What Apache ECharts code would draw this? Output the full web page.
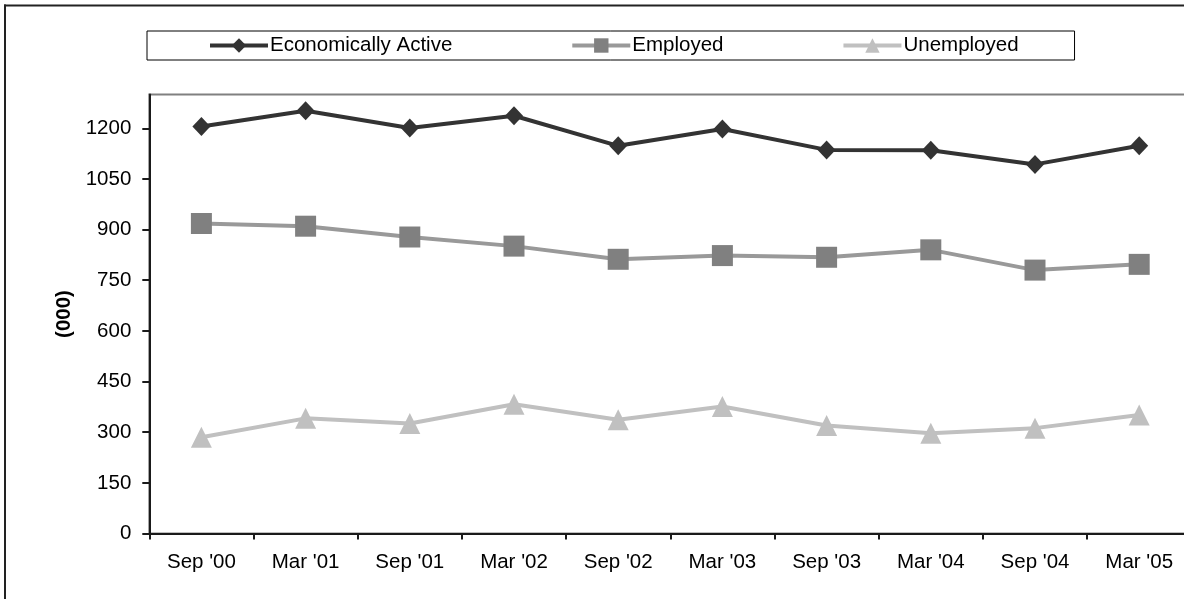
<!DOCTYPE html>
<html>
<head>
<meta charset="utf-8">
<title>Economic Activity</title>
<script src="https://cdn.jsdelivr.net/npm/echarts@6/dist/echarts.min.js"></script>
<style>
  html, body { margin: 0; padding: 0; background: #fff; overflow: hidden; }
  #chart { width: 1184px; height: 599px; }
</style>
</head>
<body>
<div id="chart"></div>
<script>
// Survey periods along the horizontal axis
const periods = ["Sep '00", "Mar '01", "Sep '01", "Mar '02", "Sep '02",
                 "Mar '03", "Sep '03", "Mar '04", "Sep '04", "Mar '05"];

// Headcounts in thousands
const economicallyActive = [1205, 1252, 1201, 1237, 1148, 1198, 1136, 1135, 1093, 1148];
const employed           = [918, 910, 878, 851, 812, 823, 818, 840, 780, 797];
const unemployed         = [285, 341, 326, 383, 337, 376, 320, 297, 312, 351];

// Labelled values on the vertical axis
const yTicks = [0, 150, 300, 450, 600, 750, 900, 1050, 1200];

const FONT = "'Liberation Sans', Arial, Helvetica, sans-serif";
const FONT_SIZE = 20.5;
const AXIS_COLOR = '#1a1a1a';

const chart = echarts.init(document.getElementById('chart'), null, { renderer: 'canvas' });

chart.setOption({
  animation: false,
  backgroundColor: '#ffffff',
  textStyle: { fontFamily: FONT, color: '#000' },
  graphic: [
    // outer frame: left and top edges of the chart area
    {
      type: 'line',
      shape: { x1: 5, y1: 4.5, x2: 5, y2: 599 },
      style: { stroke: '#222', lineWidth: 2 },
      silent: true
    },
    {
      type: 'line',
      shape: { x1: 4, y1: 5.5, x2: 1184, y2: 5.5 },
      style: { stroke: '#222', lineWidth: 2 },
      silent: true
    }
  ],
  legend: {
    left: 147,
    top: 31,
    padding: [4, 56, 4, 61],
    itemGap: 118,
    itemWidth: 58,
    itemHeight: 18,
    borderColor: '#000',
    borderWidth: 1,
    lineStyle: { width: 4 },
    textStyle: { fontFamily: FONT, fontSize: FONT_SIZE, color: '#000', padding: [0, 0, 0, -3] },
    data: ['Economically Active', 'Employed', 'Unemployed']
  },
  grid: {
    left: 149.3,
    top: 94.5,
    width: 1042,
    height: 439,
    outerBoundsMode: 'none',
    show: true,
    borderColor: '#808080',
    borderWidth: 2,
    backgroundColor: 'transparent',
    containLabel: false
  },
  xAxis: {
    type: 'category',
    data: periods,
    boundaryGap: true,
    axisLine: { lineStyle: { color: AXIS_COLOR, width: 2 } },
    axisTick: { show: true, length: 6, inside: false, lineStyle: { color: AXIS_COLOR, width: 2 } },
    axisLabel: { fontFamily: FONT, fontSize: FONT_SIZE, color: '#000', margin: 18, interval: 0 },
    splitLine: { show: false }
  },
  yAxis: {
    type: 'value',
    min: 0,
    max: 1300,
    interval: 150,
    name: '(000)',
    nameLocation: 'middle',
    nameRotate: 90,
    nameGap: 68,
    nameTextStyle: { fontFamily: FONT, fontSize: FONT_SIZE, fontWeight: 'bold', color: '#000' },
    axisLine: { show: true, lineStyle: { color: AXIS_COLOR, width: 2 } },
    axisTick: {
      show: true, length: 7, inside: false,
      customValues: yTicks,
      lineStyle: { color: AXIS_COLOR, width: 2 }
    },
    axisLabel: {
      fontFamily: FONT, fontSize: FONT_SIZE, color: '#000', margin: 18,
      customValues: yTicks,
      formatter: function (v) { return String(v); }
    },
    splitLine: { show: false }
  },
  series: [
    {
      name: 'Economically Active',
      type: 'line',
      data: economicallyActive,
      symbol: 'diamond',
      symbolSize: [18, 19],
      showAllSymbol: true,
      lineStyle: { color: '#333333', width: 4 },
      itemStyle: { color: '#333333' },
      z: 3
    },
    {
      name: 'Employed',
      type: 'line',
      data: employed,
      symbol: 'rect',
      symbolSize: 21,
      showAllSymbol: true,
      lineStyle: { color: '#999999', width: 4 },
      itemStyle: { color: '#808080' },
      z: 3
    },
    {
      name: 'Unemployed',
      type: 'line',
      data: unemployed,
      symbol: 'triangle',
      symbolSize: 21,
      showAllSymbol: true,
      lineStyle: { color: '#c0c0c0', width: 4 },
      itemStyle: { color: '#c0c0c0' },
      z: 3
    }
  ]
});
</script>
</body>
</html>
